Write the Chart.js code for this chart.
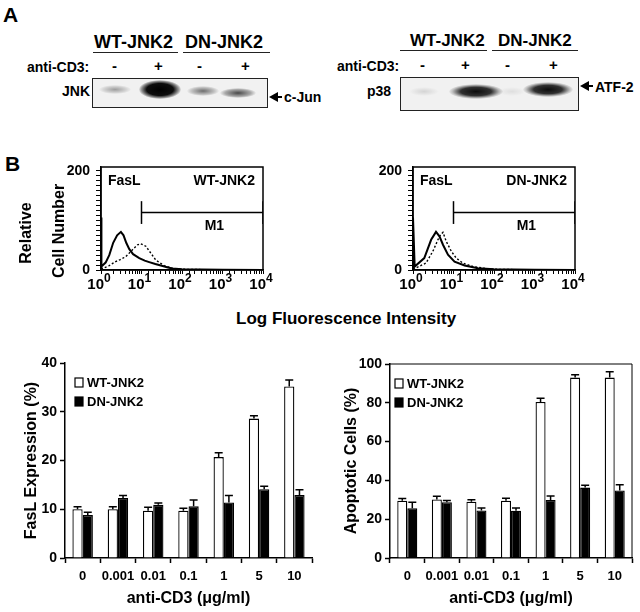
<!DOCTYPE html>
<html>
<head>
<meta charset="utf-8">
<script src="https://cdn.jsdelivr.net/npm/chart.js@4.4.1/dist/chart.umd.min.js"></script>
<style>
  body { margin: 0; background: #fff; }
  #fig { position: relative; width: 640px; height: 612px; overflow: hidden;
         font-family: "Liberation Sans", Arial, sans-serif; font-weight: bold; color: #000; }
  .t { position: absolute; white-space: nowrap; line-height: 1; }
  .rule { position: absolute; height: 0; border-top: 1.5px solid #222; }
  .blot { position: absolute; border: 1.5px solid #222; background: #f1f1f1; overflow: hidden; }
  .band { position: absolute; border-radius: 50%; }
  .head { position: absolute; width: 0; height: 0; border-top: 5px solid transparent;
          border-bottom: 5px solid transparent; border-right: 9px solid #000; }
  .shaft { position: absolute; height: 2px; background: #000; }
  canvas { position: absolute; }
</style>
</head>
<body>
<div id="fig">
  <!-- panel A: kinase assays -->
  <div class="t" style="left:3px;top:4px;font-size:21px;">A</div>

  <div class="t" style="left:94px;top:33px;font-size:18px;">WT-JNK2</div>
  <div class="t" style="left:185px;top:33px;font-size:18px;">DN-JNK2</div>
  <div class="rule" style="left:93px;top:52px;width:85px;"></div>
  <div class="rule" style="left:183px;top:52px;width:87px;"></div>
  <div class="t" style="left:27px;top:60px;font-size:14px;">anti-CD3:</div>
  <div class="t" style="left:112px;top:58px;font-size:15px;">-</div>
  <div class="t" style="left:154px;top:58px;font-size:15px;">+</div>
  <div class="t" style="left:197px;top:58px;font-size:15px;">-</div>
  <div class="t" style="left:241px;top:58px;font-size:15px;">+</div>
  <div class="t" style="left:62px;top:84px;font-size:14px;">JNK</div>
  <div class="blot" style="left:92px;top:78px;width:174px;height:28px;">
    <div class="band" style="left:6px;top:6px;width:32px;height:9px;background:radial-gradient(ellipse at center, rgba(0,0,0,0.35) 0%, rgba(0,0,0,0.12) 50%, rgba(0,0,0,0) 72%);"></div>
    <div class="band" style="left:46px;top:1px;width:42px;height:19px;background:radial-gradient(ellipse at center, rgba(0,0,0,1) 0%, rgba(0,0,0,0.95) 45%, rgba(0,0,0,0.4) 62%, rgba(0,0,0,0) 72%);"></div>
    <div class="band" style="left:94px;top:7px;width:32px;height:10px;background:radial-gradient(ellipse at center, rgba(0,0,0,0.55) 0%, rgba(0,0,0,0.2) 50%, rgba(0,0,0,0) 72%);"></div>
    <div class="band" style="left:127px;top:9px;width:36px;height:10px;background:radial-gradient(ellipse at center, rgba(0,0,0,0.7) 0%, rgba(0,0,0,0.3) 50%, rgba(0,0,0,0) 72%);"></div>
  </div>
  <div class="head" style="left:269px;top:92px;"></div>
  <div class="shaft" style="left:276px;top:96px;width:6px;"></div>
  <div class="t" style="left:284px;top:90px;font-size:14px;">c-Jun</div>

  <div class="t" style="left:410px;top:32px;font-size:17px;">WT-JNK2</div>
  <div class="t" style="left:498px;top:32px;font-size:17px;">DN-JNK2</div>
  <div class="rule" style="left:400px;top:50px;width:87px;"></div>
  <div class="rule" style="left:492px;top:50px;width:86px;"></div>
  <div class="t" style="left:337px;top:59px;font-size:14px;">anti-CD3:</div>
  <div class="t" style="left:420px;top:57px;font-size:15px;">-</div>
  <div class="t" style="left:461px;top:57px;font-size:15px;">+</div>
  <div class="t" style="left:505px;top:57px;font-size:15px;">-</div>
  <div class="t" style="left:549px;top:57px;font-size:15px;">+</div>
  <div class="t" style="left:367px;top:84px;font-size:14px;">p38</div>
  <div class="blot" style="left:400px;top:77px;width:177px;height:32px;">
    <div class="band" style="left:8px;top:9px;width:30px;height:9px;background:radial-gradient(ellipse at center, rgba(0,0,0,0.12) 0%, rgba(0,0,0,0) 70%);"></div>
    <div class="band" style="left:48px;top:6px;width:54px;height:15px;background:radial-gradient(ellipse at center, rgba(0,0,0,0.95) 0%, rgba(0,0,0,0.8) 40%, rgba(0,0,0,0.2) 62%, rgba(0,0,0,0) 72%);"></div>
    <div class="band" style="left:97px;top:9px;width:28px;height:9px;background:radial-gradient(ellipse at center, rgba(0,0,0,0.08) 0%, rgba(0,0,0,0) 70%);"></div>
    <div class="band" style="left:122px;top:4px;width:50px;height:15px;background:radial-gradient(ellipse at center, rgba(0,0,0,0.95) 0%, rgba(0,0,0,0.8) 40%, rgba(0,0,0,0.2) 62%, rgba(0,0,0,0) 72%);"></div>
  </div>
  <div class="head" style="left:580px;top:81px;"></div>
  <div class="shaft" style="left:587px;top:85px;width:6px;"></div>
  <div class="t" style="left:595px;top:80px;font-size:14px;">ATF-2</div>

  <!-- panel B -->
  <div class="t" style="left:5px;top:153px;font-size:21px;">B</div>
  <canvas id="histWT" width="320" height="150" style="left:0;top:150px;"></canvas>
  <canvas id="histDN" width="320" height="150" style="left:320px;top:150px;"></canvas>
  <div class="t" style="left:236px;top:310px;font-size:17px;">Log Fluorescence Intensity</div>

  <canvas id="barFasL" width="320" height="272" style="left:0;top:340px;"></canvas>
  <canvas id="barApo" width="320" height="272" style="left:320px;top:340px;"></canvas>
</div>

<script>
// ---- flow cytometry histograms (FasL staining) ----
const wtSolidX = [1, 1, 1.05, 1.3, 1.6, 2, 2.5, 3.1, 3.6, 4.2, 5, 6.2, 8.8, 12, 15.5, 22, 30, 45, 58, 100, 300, 1000, 10000];
const wtSolidY = [0, 106, 7, 15, 30, 55, 70, 77, 70, 55, 42, 32, 24, 19, 16, 12, 9, 5, 3, 1.5, 0.8, 0.5, 0];
const wtDotX = [1, 1.1, 1.6, 2.3, 3, 4.1, 6, 8, 9.6, 12.8, 17, 22.6, 36, 58, 100, 300, 1000, 10000];
const wtDotY = [2, 3, 9, 17, 21, 27, 41, 51, 53, 48, 34, 20, 9, 3.4, 1.5, 0.8, 0.5, 0];
const dnSolidX = [1, 1, 1.1, 1.9, 2.8, 3.7, 4.5, 5.5, 7.3, 10.6, 18.8, 40, 100, 300, 1000, 10000];
const dnSolidY = [0, 106, 7, 24, 61, 77, 68, 51, 31, 17, 9, 3.4, 1.5, 0.8, 0.5, 0];
const dnDotX = [1, 1.1, 2.1, 3.1, 4.5, 5.5, 6.6, 8.8, 11.7, 17, 30, 58, 100, 300, 1000, 10000];
const dnDotY = [2, 3, 14, 38, 68, 76, 58, 38, 24, 14, 7, 3.4, 1.5, 0.8, 0.5, 0];
const gateLow = 10, gateHigh = 10000, gateLevel = 116, gateHalf = 23;
const decades = [1, 10, 100, 1000, 10000];

// ---- bar charts ----
const doses = ['0', '0.001', '0.01', '0.1', '1', '5', '10'];
const faslWT = [10.0, 10.0, 9.7, 9.7, 20.7, 28.6, 35.2];
const faslWTErr = [0.5, 0.5, 0.7, 0.5, 0.9, 0.6, 1.3];
const faslDN = [8.8, 12.3, 10.9, 10.6, 11.4, 14.1, 12.9];
const faslDNErr = [0.6, 0.5, 0.4, 1.3, 1.4, 0.6, 1.1];
const apoWT = [29.5, 30.2, 29.0, 29.5, 80.4, 93.0, 93.0];
const apoWTErr = [1.2, 1.6, 1.0, 1.3, 2.0, 1.4, 3.0];
const apoDN = [25.6, 28.7, 24.5, 24.4, 29.9, 36.3, 34.8];
const apoDNErr = [3.2, 1.0, 1.3, 1.4, 2.0, 1.2, 3.0];

const FONT = '"Liberation Sans", Arial, sans-serif';
Chart.defaults.font.family = FONT;
Chart.defaults.color = '#000';

function zip(xs, ys) {
  return xs.map((x, i) => ({ x: x, y: ys[i] }));
}

// draws box, gate label, sample labels, y title and 10^n tick labels on the histograms
const histDecor = {
  id: 'histDecor',
  afterDraw(chart, args, opts) {
    const { ctx, chartArea: a, scales: { x, y } } = chart;
    ctx.save();
    ctx.strokeStyle = '#000';
    ctx.lineWidth = 1.5;
    ctx.strokeRect(a.left, a.top, a.right - a.left, a.bottom - a.top);
    ctx.fillStyle = '#000';
    ctx.font = 'bold 14px ' + FONT;
    ctx.textBaseline = 'middle';
    ctx.textAlign = 'left';
    ctx.fillText('FasL', a.left + 7, a.top + 14);
    ctx.textAlign = 'right';
    ctx.fillText(opts.tag, a.right - 8, a.top + 14);
    ctx.textAlign = 'center';
    ctx.fillText('M1', x.getPixelForValue(630), y.getPixelForValue(89));
    if (opts.yTitle) {
      // two rotated lines, centred slightly below the middle of the plot
      ctx.font = 'bold 16px ' + FONT;
      [[27, 83], [60, 81]].forEach((p, k) => {
        ctx.save();
        ctx.translate(p[0], p[1]);
        ctx.rotate(-Math.PI / 2);
        ctx.fillText(opts.yTitle[k], 0, 0);
        ctx.restore();
      });
    }
    ctx.textBaseline = 'alphabetic';
    decades.forEach((d, i) => {
      const px = x.getPixelForValue(d);
      ctx.font = 'bold 15px ' + FONT;
      ctx.textAlign = 'right';
      ctx.fillText('10', px + 3, a.bottom + 19);
      ctx.font = 'bold 12px ' + FONT;
      ctx.textAlign = 'left';
      ctx.fillText(String(i), px + 3, a.bottom + 12);
    });
    ctx.restore();
  }
};

function histChart(id, sx, sy, dx, dy, tag, padLeft, padRight, yTitle) {
  const line = (data, w, dash) => ({
    data: data, borderColor: '#000', borderWidth: w, borderDash: dash,
    pointRadius: 0, tension: 0, fill: false
  });
  return new Chart(document.getElementById(id), {
    type: 'line',
    data: {
      datasets: [
        line(zip(sx, sy), 2, []),
        line(zip(dx, dy), 1.4, [2, 2]),
        line([{ x: gateLow, y: gateLevel }, { x: gateHigh, y: gateLevel }], 1.5, []),
        line([{ x: gateLow, y: gateLevel - gateHalf }, { x: gateLow, y: gateLevel + gateHalf }], 1.5, []),
        line([{ x: gateHigh, y: gateLevel - gateHalf }, { x: gateHigh, y: gateLevel + gateHalf }], 1.5, [])
      ]
    },
    options: {
      responsive: false,
      animation: false,
      layout: { padding: { top: 17, right: padRight, left: 0, bottom: 0 } },
      plugins: { legend: { display: false }, tooltip: { enabled: false }, histDecor: { tag: tag, yTitle: yTitle } },
      scales: {
        x: {
          type: 'logarithmic', min: 1, max: 10000,
          ticks: { display: false, autoSkip: false },
          grid: { drawOnChartArea: false, tickLength: 4, tickColor: '#000', tickWidth: 1 },
          border: { color: '#000', width: 1.5 },
          afterFit(s) { s.height = 30; }
        },
        y: {
          min: 0, max: 208,
          ticks: {
            stepSize: 10, autoSkip: false, includeBounds: false, padding: 6,
            font: { size: 14, weight: 'bold' },
            callback: v => (v === 0 || v === 200) ? String(v) : ''
          },
          grid: { drawOnChartArea: false, tickLength: 5, tickColor: '#000', tickWidth: 1 },
          border: { color: '#000', width: 1.5 },
          afterFit(s) { s.width = padLeft; }
        }
      }
    },
    plugins: [histDecor]
  });
}

histChart('histWT', wtSolidX, wtSolidY, wtDotX, wtDotY, 'WT-JNK2', 101, 57, ['Relative', 'Cell Number']);
histChart('histDN', dnSolidX, dnSolidY, dnDotX, dnDotY, 'DN-JNK2', 93, 65, null);

// error bars drawn upward from each bar top
const errorBars = {
  id: 'errorBars',
  afterDatasetsDraw(chart) {
    const { ctx, scales: { y } } = chart;
    ctx.save();
    ctx.strokeStyle = '#000';
    ctx.lineWidth = 1.5;
    chart.data.datasets.forEach((ds, i) => {
      chart.getDatasetMeta(i).data.forEach((bar, j) => {
        const top = y.getPixelForValue(ds.data[j] + ds.errors[j]);
        ctx.beginPath();
        ctx.moveTo(bar.x, bar.y);
        ctx.lineTo(bar.x, top);
        ctx.moveTo(bar.x - 4, top);
        ctx.lineTo(bar.x + 4, top);
        ctx.stroke();
      });
    });
    ctx.restore();
  }
};

// frame on top/right (apoptosis panel) and the legend inside the plot area
const barDecor = {
  id: 'barDecor',
  afterDraw(chart, args, opts) {
    const { ctx, chartArea: a } = chart;
    ctx.save();
    ctx.strokeStyle = '#000';
    if (opts.framed) {
      ctx.lineWidth = 1;
      ctx.beginPath();
      ctx.moveTo(a.left, a.top);
      ctx.lineTo(a.right, a.top);
      ctx.lineTo(a.right, a.bottom);
      ctx.stroke();
    }
    ctx.font = 'bold 13px ' + FONT;
    ctx.textBaseline = 'middle';
    ctx.textAlign = 'left';
    ctx.lineWidth = 1.2;
    chart.data.datasets.forEach((ds, i) => {
      const bx = a.left + opts.legendX, by = a.top + 15 + i * 19;
      ctx.fillStyle = ds.backgroundColor;
      ctx.fillRect(bx, by, 8, 9);
      ctx.strokeRect(bx, by, 8, 9);
      ctx.fillStyle = '#000';
      ctx.fillText(ds.label, bx + 12, by + 5);
    });
    ctx.restore();
  }
};

function barChart(id, wt, wtErr, dn, dnErr, yMax, yStep, yTitle, axisW, padTop, framed, legendX) {
  return new Chart(document.getElementById(id), {
    type: 'bar',
    data: {
      labels: doses,
      datasets: [
        { label: 'WT-JNK2', data: wt, errors: wtErr, backgroundColor: '#fff', borderColor: '#000', borderWidth: 1.3 },
        { label: 'DN-JNK2', data: dn, errors: dnErr, backgroundColor: '#000', borderColor: '#000', borderWidth: 1.3 }
      ]
    },
    options: {
      responsive: false,
      animation: false,
      layout: { padding: { top: padTop, right: 8, left: 0, bottom: 0 } },
      datasets: { bar: { categoryPercentage: 0.58, barPercentage: 1 } },
      plugins: {
        tooltip: { enabled: false },
        legend: { display: false },
        barDecor: { framed: framed, legendX: legendX }
      },
      scales: {
        x: {
          grid: { drawOnChartArea: false, offset: true, tickLength: 5, tickColor: '#000', tickWidth: 1.5 },
          border: { color: '#000', width: 1.5 },
          ticks: { padding: 6, autoSkip: false, maxRotation: 0, font: { size: 13, weight: 'bold' } },
          title: { display: true, text: 'anti-CD3 (\u03bcg/ml)', font: { size: 16, weight: 'bold' }, padding: { bottom: 4 } },
          afterFit(s) { s.height = 54; }
        },
        y: {
          min: 0, max: yMax,
          ticks: { stepSize: yStep, padding: 3, font: { size: 14, weight: 'bold' } },
          grid: { drawOnChartArea: false, tickLength: 5, tickColor: '#000', tickWidth: 1.5 },
          border: { color: '#000', width: 1.5 },
          title: { display: true, text: yTitle, font: { size: 16, weight: 'bold' }, padding: { top: 22 } },
          afterFit(s) { s.width = axisW; }
        }
      }
    },
    plugins: [errorBars, barDecor]
  });
}

barChart('barFasL', faslWT, faslWTErr, faslDN, faslDNErr, 40, 10, 'FasL Expression (%)', 65, 23, false, 10);
barChart('barApo', apoWT, apoWTErr, apoDN, apoDNErr, 100, 20, 'Apoptotic Cells (%)', 70, 24, true, 5);
</script>
</body>
</html>
